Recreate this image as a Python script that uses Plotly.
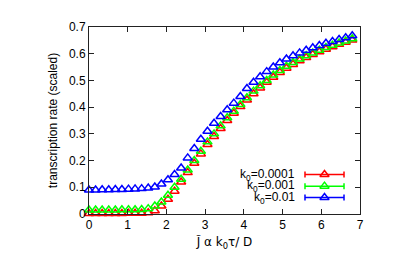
import plotly.graph_objects as go

J = [round(0.17 * i, 2) for i in range(41)]

rate_k0001 = [0.002, 0.002, 0.002, 0.002, 0.002, 0.002, 0.003, 0.003, 0.003, 0.005,
              0.012, 0.030, 0.055, 0.085, 0.120, 0.155, 0.190, 0.225, 0.260, 0.290,
              0.320, 0.350, 0.377, 0.402, 0.427, 0.450, 0.472, 0.493, 0.512, 0.530,
              0.546, 0.560, 0.574, 0.586, 0.597, 0.607, 0.617, 0.626, 0.635, 0.643, 0.651]
rate_k001 = [0.015, 0.015, 0.015, 0.015, 0.015, 0.016, 0.016, 0.016, 0.017, 0.020,
             0.030, 0.045, 0.070, 0.100, 0.130, 0.165, 0.200, 0.235, 0.270, 0.300,
             0.330, 0.360, 0.385, 0.410, 0.435, 0.460, 0.480, 0.500, 0.520, 0.537,
             0.553, 0.567, 0.580, 0.592, 0.603, 0.613, 0.623, 0.632, 0.640, 0.648, 0.656]
rate_k01 = [0.090, 0.090, 0.091, 0.091, 0.092, 0.092, 0.093, 0.094, 0.095, 0.097,
            0.101, 0.112, 0.128, 0.148, 0.172, 0.210, 0.245, 0.280, 0.310, 0.340,
            0.365, 0.390, 0.415, 0.440, 0.470, 0.493, 0.514, 0.533, 0.550, 0.566,
            0.580, 0.592, 0.603, 0.613, 0.622, 0.631, 0.639, 0.646, 0.653, 0.660, 0.667]

series = [("k<sub>0</sub>=0.0001", rate_k0001, "#ff0000"),
          ("k<sub>0</sub>=0.001", rate_k001, "#00ff00"),
          ("k<sub>0</sub>=0.01", rate_k01, "#0000ff")]

FONT = "Liberation Sans, Arial, sans-serif"

fig = go.Figure()
for name, vals, col in series:
    fig.add_trace(go.Scatter(
        x=J, y=vals, mode="markers", name=name, showlegend=False, cliponaxis=False,
        marker=dict(symbol="triangle-up-open", size=8, color=col, line=dict(width=1.5, color=col)),
    ))

# manual gnuplot-style legend (text right-aligned, sample on the right)
leg_y = [0.211, 0.149, 0.088]
for (name, vals, col), ly in zip(series, leg_y):
    fig.add_trace(go.Scatter(
        x=[0.869], y=[ly], xaxis="x2", yaxis="y2", mode="markers", showlegend=False,
        cliponaxis=False,
        marker=dict(symbol="triangle-up-open", size=8, color=col, line=dict(width=1.5, color=col)),
        error_x=dict(type="data", array=[0.072], arrayminus=[0.072], color=col,
                     thickness=1.5, width=3),
    ))
    fig.add_annotation(x=0.766, y=ly, xref="paper", yref="paper", text=name,
                       showarrow=False, xanchor="right", yanchor="middle",
                       font=dict(family=FONT, size=12, color="black"))

axis_common = dict(showline=True, mirror="ticks", linecolor="#222222", linewidth=1,
                   ticks="inside", ticklen=5, tickcolor="#222222", showgrid=False,
                   zeroline=False, tickfont=dict(family=FONT, size=12, color="black"))

fig.update_layout(
    width=407, height=263,
    margin=dict(l=81, r=55, t=12, b=57),
    paper_bgcolor="white", plot_bgcolor="white",
    font=dict(family=FONT, size=12, color="black"),
    xaxis=dict(range=[0, 7], tickvals=[0, 1, 2, 3, 4, 5, 6, 7], **axis_common,
               title=dict(text="J\u0303 \u03b1 k<sub>0</sub>\u03c4/ D",
                          font=dict(family="DejaVu Sans, " + FONT, size=12), standoff=6)),
    yaxis=dict(range=[0, 0.7], tickvals=[0, 0.1, 0.2, 0.3, 0.4, 0.5, 0.6, 0.7],
               ticktext=["0", "0.1", "0.2", "0.3", "0.4", "0.5", "0.6", "0.7"], **axis_common,
               title=dict(text="transcription rate (scaled)",
                          font=dict(family=FONT, size=12), standoff=8)),
    xaxis2=dict(overlaying="x", range=[0, 1], visible=False),
    yaxis2=dict(overlaying="y", range=[0, 1], visible=False),
    showlegend=False,
)

fig.write_html("out.html")
